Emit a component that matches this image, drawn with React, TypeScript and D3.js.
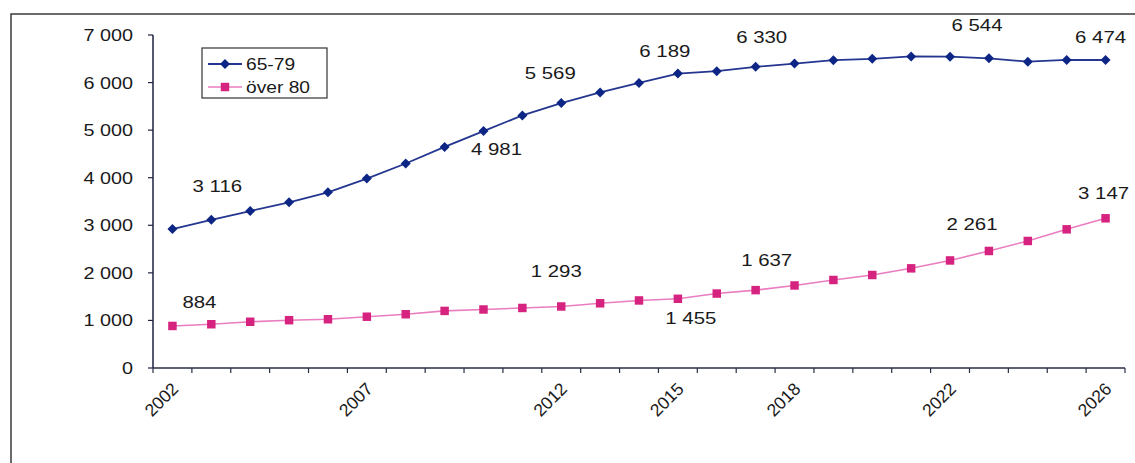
import React from "react";
import * as d3 from "d3";

// categories (one per year) and the years that get an axis label
const years = [
  "2002", "2003", "2004", "2005", "2006", "2007", "2008", "2009", "2010",
  "2011", "2012", "2013", "2014", "2015", "2016", "2017", "2018", "2019",
  "2020", "2021", "2022", "2023", "2024", "2025", "2026",
];
const tickYears = ["2002", "2007", "2012", "2015", "2018", "2022", "2026"];
const yTicks = [0, 1000, 2000, 3000, 4000, 5000, 6000, 7000];

// series values
const age6579 = [
  2920, 3116, 3300, 3482, 3692, 3981, 4298, 4648, 4981, 5310, 5569, 5792,
  5993, 6189, 6240, 6330, 6400, 6470, 6500, 6550, 6544, 6510, 6440, 6475, 6474,
];
const over80 = [
  884, 920, 972, 1005, 1025, 1078, 1130, 1200, 1230, 1262, 1293, 1360, 1420,
  1455, 1565, 1637, 1735, 1850, 1955, 2095, 2261, 2460, 2670, 2915, 3147,
];

// years that carry a data label
const labelYears6579 = ["2003", "2010", "2012", "2015", "2017", "2022", "2026"];
const labelYearsOver80 = ["2002", "2012", "2015", "2017", "2022", "2026"];

// label offsets from the point (dx, dy to baseline)
const labelOffsets6579: [number, number][] = [
  [6, -28], [13, 24], [-11, -24], [-13, -17], [6, -24], [27, -26], [-5, -17],
];
const labelOffsetsOver80: [number, number][] = [
  [27, -18], [-5, -29], [13, 25], [11, -24], [22, -30], [-2, -19],
];

const W = 1135;
const H = 463;
const plot = { left: 153, right: 1125, top: 35, bottom: 368 };
const FONT = "'Liberation Sans', Arial, sans-serif";
const STRETCH = 1.2;

const sv = d3.formatLocale({
  decimal: ",",
  thousands: "\u00a0",
  grouping: [3],
  currency: ["", " kr"],
});
const fmt = sv.format(",d");

const BLUE_LINE = "#24368f";
const BLUE_MARK = "#0d2685";
const PINK_LINE = "#ea7cc0";
const PINK_MARK = "#d6237f";

// square diamond marker and square marker
const diamond = "M0,-5L5,0L0,5L-5,0Z";
const square = d3.symbol().type(d3.symbolSquare).size(72)() || "";

const App: React.FC = () => {
  const x = d3
    .scaleBand<string>()
    .domain(years)
    .range([plot.left, plot.right])
    .padding(0);
  const y = d3.scaleLinear().domain([0, 7000]).range([plot.bottom, plot.top]);
  const cx = (yr: string) => (x(yr) || 0) + x.bandwidth() / 2;

  const line = d3
    .line<number>()
    .x((_, i) => cx(years[i]))
    .y((d) => y(d));

  const sText = (
    key: string,
    tx: number,
    ty: number,
    text: string,
    size: number,
    anchor: string
  ) => (
    <text
      key={key}
      transform={`translate(${tx},${ty}) scale(${STRETCH},1)`}
      fontSize={size}
      fontFamily={FONT}
      textAnchor={anchor}
      fill="#1a1a1a"
    >
      {text}
    </text>
  );

  const dataLabels = (
    vals: number[],
    lblYears: string[],
    offs: [number, number][],
    prefix: string
  ) =>
    lblYears.map((yr, k) => {
      const i = years.indexOf(yr);
      return sText(
        `${prefix}-${yr}`,
        cx(yr) + offs[k][0],
        y(vals[i]) + offs[k][1],
        fmt(vals[i]),
        17,
        "middle"
      );
    });

  return (
    <div style={{ position: "absolute", left: 0, top: 0 }}>
      <svg width={W} height={H} style={{ display: "block", background: "#fff" }}>
        {/* outer frame */}
        <rect
          x={11}
          y={14}
          width={W}
          height={H}
          fill="none"
          stroke="#3a3a3a"
          strokeWidth={1.5}
        />

        {/* y axis */}
        <line
          x1={plot.left}
          x2={plot.left}
          y1={plot.top}
          y2={plot.bottom}
          stroke="#1c2240"
          strokeWidth={1.5}
        />
        {yTicks.map((t) => (
          <g key={`yt-${t}`}>
            <line
              x1={plot.left - 5}
              x2={plot.left}
              y1={y(t)}
              y2={y(t)}
              stroke="#1c2240"
              strokeWidth={1.2}
            />
            {sText(`yl-${t}`, 133, y(t) + 6, fmt(t), 16.5, "end")}
          </g>
        ))}

        {/* x axis */}
        <line
          x1={plot.left}
          x2={plot.right}
          y1={plot.bottom}
          y2={plot.bottom}
          stroke="#2a2e45"
          strokeWidth={1.5}
        />
        {years.concat(["end"]).map((yr, i) => {
          const xx = i < years.length ? x(yr) || 0 : plot.right;
          return (
            <line
              key={`xt-${i}`}
              x1={xx}
              x2={xx}
              y1={plot.bottom}
              y2={plot.bottom + 5}
              stroke="#2a2e45"
              strokeWidth={1.2}
            />
          );
        })}
        {tickYears.map((yr) => (
          <text
            key={`xl-${yr}`}
            transform={`translate(${cx(yr) + 7},${plot.bottom + 22}) rotate(-45)`}
            fontSize={17.5}
            fontFamily={FONT}
            textAnchor="end"
            fill="#1a1a1a"
          >
            {yr}
          </text>
        ))}

        {/* series lines */}
        <path d={line(over80) || ""} fill="none" stroke={PINK_LINE} strokeWidth={1.6} />
        <path d={line(age6579) || ""} fill="none" stroke={BLUE_LINE} strokeWidth={1.8} />

        {/* markers */}
        {over80.map((v, i) => (
          <path
            key={`pm-${i}`}
            d={square}
            transform={`translate(${cx(years[i])},${y(v)})`}
            fill={PINK_MARK}
          />
        ))}
        {age6579.map((v, i) => (
          <path
            key={`bm-${i}`}
            d={diamond}
            transform={`translate(${cx(years[i])},${y(v)})`}
            fill={BLUE_MARK}
          />
        ))}

        {/* data labels */}
        {dataLabels(age6579, labelYears6579, labelOffsets6579, "b")}
        {dataLabels(over80, labelYearsOver80, labelOffsetsOver80, "p")}

        {/* legend */}
        <rect
          x={202}
          y={48}
          width={125}
          height={50}
          fill="#fff"
          stroke="#333"
          strokeWidth={1.2}
        />
        <line x1={208} x2={242} y1={64} y2={64} stroke={BLUE_LINE} strokeWidth={1.8} />
        <path d={diamond} transform="translate(225,64)" fill={BLUE_MARK} />
        {sText("lg1", 246, 70, "65-79", 16, "start")}
        <line x1={208} x2={242} y1={87} y2={87} stroke={PINK_LINE} strokeWidth={1.6} />
        <path d={square} transform="translate(225,87)" fill={PINK_MARK} />
        {sText("lg2", 246, 93, "över 80", 16, "start")}
      </svg>
    </div>
  );
};

export default App;
